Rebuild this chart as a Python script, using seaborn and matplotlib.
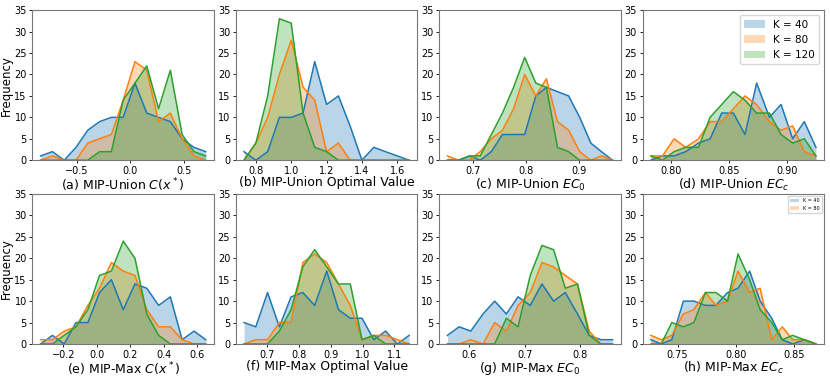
import matplotlib
matplotlib.use("Agg")
import matplotlib.pyplot as plt
import seaborn as sns

# bin centres and counts, one panel at a time
a_x = [-0.836, -0.726, -0.616, -0.506, -0.396, -0.286, -0.176, -0.066, 0.044, 0.154, 0.264, 0.374, 0.484, 0.594, 0.704]
a_k40 = [1, 2, 0, 3, 7, 9, 10, 10, 18, 11, 10, 9, 5, 3, 2]
a_k80 = [0, 1, 0, 0, 4, 5, 6, 14, 23, 21, 9, 11, 5, 1, 0]
a_k120 = [0, 0, 0, 0, 0, 2, 2, 14, 18, 22, 12, 21, 6, 2, 1]

b_x = [0.733, 0.800, 0.867, 0.933, 1.000, 1.067, 1.133, 1.200, 1.267, 1.333, 1.400, 1.467, 1.533, 1.600, 1.667]
b_k40 = [2, 0, 2, 10, 10, 11, 23, 13, 15, 8, 0, 3, 2, 1, 0]
b_k80 = [0, 4, 10, 20, 28, 17, 14, 2, 4, 0, 0, 0, 0, 0, 0]
b_k120 = [0, 4, 15, 33, 32, 11, 3, 2, 0, 0, 0, 0, 0, 0, 0]

c_x = [0.652, 0.673, 0.694, 0.714, 0.735, 0.756, 0.777, 0.798, 0.819, 0.839, 0.860, 0.881, 0.902, 0.923, 0.943, 0.964]
c_k40 = [0, 0, 1, 0, 2, 6, 6, 6, 15, 17, 16, 15, 10, 4, 2, 0]
c_k80 = [1, 0, 0, 2, 5, 7, 12, 20, 15, 19, 9, 7, 2, 0, 1, 0]
c_k120 = [0, 0, 1, 1, 6, 11, 17, 24, 18, 17, 3, 2, 0, 0, 0, 0]

d_x = [0.783, 0.793, 0.803, 0.813, 0.824, 0.834, 0.844, 0.854, 0.864, 0.874, 0.885, 0.895, 0.905, 0.915, 0.925]
d_k40 = [0, 1, 1, 2, 4, 5, 11, 11, 6, 18, 10, 13, 5, 9, 3]
d_k80 = [1, 1, 5, 3, 5, 9, 9, 12, 15, 13, 9, 7, 8, 2, 1]
d_k120 = [1, 0, 2, 3, 3, 10, 13, 16, 14, 11, 11, 6, 4, 5, 1]

e_x = [-0.337, -0.266, -0.196, -0.125, -0.054, 0.016, 0.087, 0.158, 0.228, 0.299, 0.370, 0.440, 0.511, 0.582, 0.652]
e_k40 = [0, 2, 0, 5, 5, 12, 15, 8, 14, 13, 9, 11, 1, 3, 1]
e_k80 = [1, 1, 3, 4, 9, 13, 19, 17, 16, 8, 4, 4, 1, 0, 0]
e_k120 = [0, 0, 2, 4, 8, 16, 17, 24, 20, 7, 2, 0, 0, 0, 0]

f_x = [0.627, 0.664, 0.701, 0.738, 0.775, 0.812, 0.849, 0.887, 0.924, 0.961, 0.998, 1.035, 1.072, 1.109, 1.146]
f_k40 = [5, 4, 12, 4, 11, 12, 9, 17, 8, 6, 6, 1, 3, 0, 2]
f_k80 = [0, 1, 1, 5, 5, 19, 21, 19, 14, 9, 1, 2, 2, 1, 0]
f_k120 = [0, 0, 0, 3, 8, 18, 22, 18, 14, 14, 1, 2, 0, 0, 0]

g_x = [0.561, 0.582, 0.603, 0.625, 0.646, 0.667, 0.688, 0.710, 0.731, 0.752, 0.773, 0.795, 0.816, 0.837, 0.858]
g_k40 = [2, 4, 3, 7, 10, 7, 11, 9, 14, 10, 12, 7, 2, 1, 1]
g_k80 = [0, 0, 1, 0, 5, 3, 9, 12, 19, 18, 16, 14, 3, 0, 0]
g_k120 = [0, 0, 0, 0, 0, 6, 4, 16, 23, 22, 13, 14, 2, 0, 0]

h_x = [0.727, 0.736, 0.745, 0.755, 0.764, 0.774, 0.783, 0.793, 0.802, 0.812, 0.821, 0.831, 0.840, 0.849, 0.859, 0.869]
h_k40 = [1, 0, 1, 10, 10, 9, 9, 12, 13, 17, 10, 6, 1, 0, 1, 0]
h_k80 = [2, 1, 2, 7, 8, 12, 9, 10, 17, 12, 13, 1, 4, 1, 1, 0]
h_k120 = [0, 0, 5, 4, 5, 12, 12, 10, 21, 15, 8, 5, 1, 2, 1, 0]

titles = ["(a) MIP-Union $C(x^*)$", "(b) MIP-Union Optimal Value",
          "(c) MIP-Union $EC_0$", "(d) MIP-Union $EC_c$",
          "(e) MIP-Max $C(x^*)$", "(f) MIP-Max Optimal Value",
          "(g) MIP-Max $EC_0$", "(h) MIP-Max $EC_c$"]
series_labels = ["K = 40", "K = 80", "K = 120"]

panels = [
    (a_x, [a_k40, a_k80, a_k120]),
    (b_x, [b_k40, b_k80, b_k120]),
    (c_x, [c_k40, c_k80, c_k120]),
    (d_x, [d_k40, d_k80, d_k120]),
    (e_x, [e_k40, e_k80, e_k120]),
    (f_x, [f_k40, f_k80, f_k120]),
    (g_x, [g_k40, g_k80, g_k120]),
    (h_x, [h_k40, h_k80, h_k120]),
]

colors = sns.color_palette("tab10", 3)

fig, axes = plt.subplots(2, 4, figsize=(8.3, 3.78), dpi=100)
fig.subplots_adjust(left=0.039, right=0.993, top=0.973, bottom=0.09,
                    wspace=0.12, hspace=0.225)

for ax, (xs, counts), title in zip(axes.flat, panels, titles):
    for ys, col, lab in zip(counts, colors, series_labels):
        ax.fill_between(xs, ys, alpha=0.3, color=col, linewidth=0, label=lab)
        sns.lineplot(x=xs, y=ys, ax=ax, color=col, linewidth=1.1, legend=False)
    ax.set_ylim(0, 35)
    ax.set_yticks(range(0, 36, 5))
    ax.set_xlabel(title, fontsize=9, labelpad=0.5)
    ax.tick_params(labelsize=7, length=2.5, width=0.6, pad=1.5)
    for sp in ax.spines.values():
        sp.set_color("#777777")
        sp.set_linewidth(0.8)

for ax in axes[:, 0]:
    ax.set_ylabel("Frequency", fontsize=8.5, labelpad=1)

# full legend on (d), the small two-entry one on (h)
axes[0, 3].legend(loc="upper right", fontsize=7.5)
h_handles, h_labels = axes[1, 3].get_legend_handles_labels()
axes[1, 3].legend(h_handles[:2], h_labels[:2], loc="upper right", fontsize=3.5)

plt.savefig("out.png", dpi=100)
